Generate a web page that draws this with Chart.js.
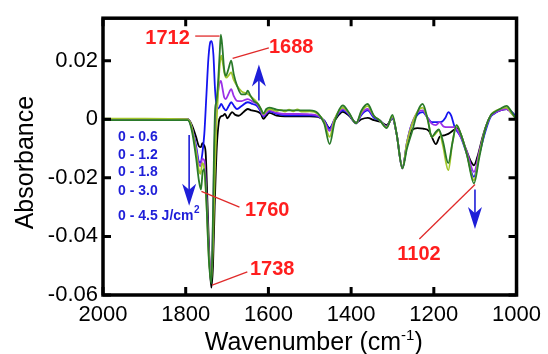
<!DOCTYPE html>
<html><head><meta charset="utf-8">
<script src="https://cdn.jsdelivr.net/npm/chart.js@4/dist/chart.umd.min.js"></script>
<style>html,body{margin:0;padding:0;background:#fff;overflow:hidden}canvas{display:block}</style>
</head><body>
<canvas id="c" width="548" height="354" style="width:548px;height:354px"></canvas>
<script>
// ---------- data (wavenumber cm-1, absorbance) ----------
const xTicks = [2000, 1800, 1600, 1400, 1200, 1000];
const xTickLabels = ['2000', '1800', '1600', '1400', '1200', '1000'];
const yTicks = [-0.06, -0.04, -0.02, 0, 0.02];
const yTickLabels = ['-0.06', '-0.04', '-0.02', '0', '0.02'];
const seriesNames = ['0 - 0.6', '0 - 1.2', '0 - 1.8', '0 - 3.0', '0 - 4.5'];
const peakLabels = ['1712', '1688', '1760', '1738', '1102'];

const black = [[2000,0],[1900,0],[1795,0],[1785,-0.002],[1775,-0.006],[1768,-0.0092],[1763,-0.0095],[1760,-0.0082],[1756,-0.0088],[1752,-0.011],[1747,-0.03],[1742,-0.05],[1738,-0.0575],[1734,-0.05],[1730,-0.03],[1725,-0.01],[1720,-0.001],[1716,0.0008],[1710,0.0012],[1705,0.0018],[1699,0.0003],[1692,0.0018],[1688,0.0024],[1680,0.0015],[1672,0.0012],[1660,0.0025],[1650,0.0035],[1640,0.003],[1625,0.0025],[1618,0.0018],[1612,0.0001],[1605,0.0012],[1598,0.0022],[1580,0.0012],[1560,0.001],[1530,0.001],[1500,0.001],[1480,0.0008],[1465,-0.0005],[1452,-0.003],[1440,-0.0005],[1420,0.0025],[1405,0.0012],[1388,-0.0012],[1375,0.0],[1360,0.0005],[1345,-0.0003],[1330,-0.0008],[1314,-0.002],[1300,0.0003],[1290,-0.005],[1276,-0.0165],[1265,-0.009],[1253,-0.0037],[1240,-0.003],[1226,-0.0032],[1212,-0.004],[1205,-0.006],[1195,-0.0085],[1186,-0.006],[1176,-0.0055],[1165,-0.005],[1150,-0.0035],[1143,-0.003],[1123,-0.01],[1110,-0.0145],[1103,-0.0157],[1095,-0.013],[1080,-0.005],[1065,0.0005],[1055,0.002],[1040,0.003],[1024,0.0035],[1012,0.0025],[1000,0.0005]];

const blue = [[2000,0],[1900,0],[1795,0],[1785,-0.003],[1775,-0.009],[1768,-0.0145],[1764,-0.0148],[1760,-0.012],[1755,-0.005],[1750,0.008],[1745,0.021],[1740,0.0265],[1737,0.0267],[1733,0.022],[1729,0.01],[1724,0.0035],[1719,0.004],[1714,0.0052],[1708,0.0038],[1703,0.003],[1696,0.0045],[1690,0.0058],[1683,0.0045],[1676,0.0035],[1665,0.0045],[1650,0.0058],[1638,0.0052],[1628,0.0046],[1620,0.003],[1612,0.001],[1605,0.002],[1598,0.0027],[1580,0.0018],[1560,0.0013],[1530,0.0013],[1500,0.0013],[1480,0.001],[1465,-0.0005],[1452,-0.0033],[1440,0.0],[1420,0.003],[1405,0.0015],[1388,-0.0014],[1375,0.0015],[1360,0.003],[1345,0.0005],[1330,-0.0005],[1314,-0.0025],[1300,0.0005],[1290,-0.005],[1276,-0.0168],[1265,-0.008],[1253,-0.0015],[1238,0.0018],[1227,0.0024],[1215,0.0005],[1205,-0.001],[1190,-0.001],[1180,-0.0008],[1172,0.0005],[1165,0.0024],[1158,0.0012],[1150,-0.0025],[1135,-0.006],[1120,-0.012],[1103,-0.0197],[1090,-0.012],[1075,-0.004],[1062,0.001],[1055,0.0018],[1040,0.003],[1024,0.0035],[1012,0.0025],[1000,0.0007]];

const purple = [[2000,0],[1900,0],[1795,0],[1785,-0.003],[1775,-0.01],[1768,-0.0155],[1764,-0.016],[1760,-0.0135],[1755,-0.014],[1750,-0.025],[1744,-0.045],[1738,-0.053],[1734,-0.035],[1731,-0.012],[1727,0.002],[1723,0.008],[1718,0.0125],[1715,0.0131],[1711,0.0105],[1707,0.0075],[1703,0.0069],[1697,0.0085],[1690,0.0103],[1684,0.008],[1676,0.0063],[1665,0.0062],[1650,0.0069],[1638,0.006],[1628,0.0052],[1620,0.0035],[1612,0.0012],[1605,0.0022],[1598,0.003],[1580,0.0022],[1560,0.0018],[1530,0.0018],[1500,0.0017],[1480,0.0012],[1465,-0.0008],[1452,-0.004],[1440,0.0],[1420,0.0035],[1405,0.0018],[1388,-0.0014],[1375,0.002],[1360,0.0035],[1345,0.001],[1330,-0.0005],[1314,-0.0025],[1300,0.0007],[1290,-0.005],[1276,-0.0168],[1265,-0.008],[1253,-0.0015],[1238,0.0025],[1227,0.003],[1215,0.0005],[1205,-0.0015],[1195,-0.002],[1186,-0.001],[1176,-0.0025],[1165,-0.0027],[1150,-0.0027],[1135,-0.006],[1120,-0.011],[1103,-0.018],[1090,-0.011],[1075,-0.003],[1062,0.0012],[1055,0.002],[1040,0.003],[1024,0.0035],[1012,0.002],[1000,0.0]];

const yellowGreen = [[2000,0.0002],[1900,0.0002],[1795,0],[1785,-0.003],[1775,-0.011],[1768,-0.0175],[1764,-0.0186],[1760,-0.015],[1756,-0.016],[1750,-0.028],[1744,-0.047],[1738,-0.055],[1734,-0.042],[1730,-0.02],[1726,-0.003],[1722,0.008],[1718,0.018],[1714,0.0217],[1710,0.019],[1706,0.0155],[1702,0.0142],[1696,0.015],[1690,0.016],[1684,0.0135],[1676,0.0114],[1665,0.0095],[1650,0.0086],[1638,0.0072],[1628,0.0058],[1620,0.004],[1612,0.0018],[1605,0.0028],[1598,0.0035],[1580,0.0028],[1570,0.0032],[1560,0.0026],[1550,0.0033],[1540,0.0027],[1530,0.0034],[1520,0.0026],[1500,0.0027],[1480,0.0018],[1465,-0.001],[1452,-0.006],[1440,0.0],[1420,0.004],[1405,0.002],[1388,-0.0014],[1375,0.0025],[1360,0.0045],[1345,0.0012],[1330,-0.0005],[1314,-0.0028],[1300,0.001],[1290,-0.005],[1276,-0.0168],[1265,-0.008],[1253,-0.0018],[1238,0.003],[1227,0.004],[1215,0.0],[1205,-0.006],[1196,-0.005],[1188,-0.0038],[1178,-0.009],[1165,-0.0174],[1155,-0.008],[1145,-0.002],[1135,-0.005],[1120,-0.012],[1103,-0.0208],[1090,-0.012],[1075,-0.003],[1062,0.0015],[1055,0.0025],[1040,0.0035],[1024,0.004],[1012,0.002],[1000,0.0]];

const darkGreen = [[2000,-0.0003],[1900,-0.0003],[1795,-0.0003],[1785,-0.004],[1775,-0.013],[1768,-0.021],[1763,-0.024],[1759,-0.018],[1755,-0.017],[1750,-0.028],[1744,-0.048],[1738,-0.056],[1735,-0.04],[1732,-0.015],[1729,0.003],[1726,0.0058],[1722,0.012],[1718,0.022],[1715,0.0289],[1711,0.024],[1707,0.017],[1703,0.0148],[1697,0.017],[1690,0.0200],[1684,0.0155],[1676,0.0115],[1665,0.0085],[1655,0.0085],[1650,0.0098],[1644,0.0082],[1635,0.0062],[1625,0.0052],[1618,0.0035],[1612,0.002],[1605,0.0035],[1598,0.004],[1580,0.0033],[1560,0.003],[1530,0.003],[1500,0.003],[1480,0.002],[1465,-0.0015],[1452,-0.0085],[1440,-0.001],[1420,0.0047],[1405,0.0022],[1388,-0.0014],[1375,0.003],[1360,0.0052],[1345,0.0012],[1330,-0.0005],[1314,-0.003],[1300,0.0015],[1290,-0.005],[1276,-0.0168],[1265,-0.01],[1253,-0.0044],[1238,0.003],[1227,0.0052],[1215,0.0],[1205,-0.006],[1196,-0.0045],[1188,-0.0035],[1178,-0.0075],[1165,-0.015],[1155,-0.008],[1145,-0.002],[1135,-0.005],[1120,-0.012],[1103,-0.0219],[1090,-0.013],[1075,-0.003],[1062,0.0015],[1055,0.0023],[1040,0.0035],[1024,0.0046],[1012,0.0025],[1000,-0.0003]];

// ---------- styles / annotation placement (data coordinates) ----------
const seriesData = [black, blue, purple, yellowGreen, darkGreen];
const seriesColors = ['#000000', '#1414f0', '#9a30e8', '#a2c62c', '#2a7a2a'];
const seriesOrder = [5, 4, 3, 2, 1];

const labelSpots = [ // text centre, leader line from -> to
  {t:[1844, 0.0276], from:[1777, 0.0284], to:[1718, 0.0284]},
  {t:[1545, 0.0245], from:[1599, 0.0244], to:[1686.5, 0.0208]},
  {t:[1603, -0.0310], from:[1670, -0.0300], to:[1762, -0.0246]},
  {t:[1591, -0.0513], from:[1651, -0.0521], to:[1736, -0.0566]},
  {t:[1236, -0.0460], from:[1235, -0.0409], to:[1100.5, -0.0223]}
];
const arrows = [ // x, shaft start y, tip y
  {x:1623, y0:0.0064, y1:0.0187},
  {x:1791.7, y0:-0.0054, y1:-0.0295},
  {x:1100.5, y0:-0.0240, y1:-0.0375}
];
const legendPos = {x:1963.7, y:[-0.0060, -0.0122, -0.0182, -0.0246, -0.0330]};

const FONT = "'Liberation Sans', Arial, Helvetica, sans-serif";
const RED = '#ff1e1e', LEADER = '#e02a2a', BLUE = '#1e1ed8';

const decor = {
  id: 'decor',
  afterDatasetsDraw(chart) {
    const {ctx, chartArea: a, scales: {x, y}} = chart;
    const X = v => x.getPixelForValue(v), Y = v => y.getPixelForValue(v);
    ctx.save();
    // frame + inward ticks
    ctx.strokeStyle = '#000';
    ctx.lineWidth = 3;
    ctx.beginPath();
    xTicks.forEach(v => { const p = X(v); ctx.moveTo(p, a.bottom); ctx.lineTo(p, a.bottom - 8); ctx.moveTo(p, a.top); ctx.lineTo(p, a.top + 8); });
    yTicks.forEach(v => { const p = Y(v); ctx.moveTo(a.left, p); ctx.lineTo(a.left + 8, p); ctx.moveTo(a.right, p); ctx.lineTo(a.right - 8, p); });
    ctx.stroke();
    ctx.lineWidth = 3.5;
    ctx.strokeRect(a.left, a.top, a.right - a.left, a.bottom - a.top);

    // axis titles
    ctx.fillStyle = '#000';
    ctx.font = '25px ' + FONT;
    ctx.textBaseline = 'alphabetic';
    ctx.save();
    ctx.translate(33, (a.top + a.bottom) / 2 + 6);
    ctx.rotate(-Math.PI / 2);
    ctx.textAlign = 'center';
    ctx.fillText('Absorbance', 0, 0);
    ctx.restore();
    const t1 = 'Wavenumber (cm', t2 = '-1', t3 = ')';
    ctx.font = '25px ' + FONT; const w1 = ctx.measureText(t1).width, w3 = ctx.measureText(t3).width;
    ctx.font = '15px ' + FONT; const w2 = ctx.measureText(t2).width;
    let sx = (a.left + a.right) / 2 + 4 - (w1 + w2 + w3) / 2;
    const by = 350;
    ctx.textAlign = 'left';
    ctx.font = '25px ' + FONT; ctx.fillText(t1, sx, by); sx += w1;
    ctx.font = '15px ' + FONT; ctx.fillText(t2, sx, by - 10); sx += w2;
    ctx.font = '25px ' + FONT; ctx.fillText(t3, sx, by);

    // leader lines + peak labels
    ctx.strokeStyle = LEADER; ctx.lineWidth = 1.3;
    labelSpots.forEach((s, i) => {
      ctx.beginPath(); ctx.moveTo(X(s.from[0]), Y(s.from[1])); ctx.lineTo(X(s.to[0]), Y(s.to[1])); ctx.stroke();
      ctx.fillStyle = RED; ctx.font = 'bold 20px ' + FONT; ctx.textAlign = 'center'; ctx.textBaseline = 'middle';
      ctx.fillText(peakLabels[i], X(s.t[0]), Y(s.t[1]));
    });

    // arrows
    ctx.strokeStyle = BLUE; ctx.fillStyle = BLUE; ctx.lineWidth = 1.6;
    arrows.forEach(ar => {
      const px = X(ar.x), p0 = Y(ar.y0), p1 = Y(ar.y1);
      const dir = p1 < p0 ? -1 : 1; // -1 up
      const hl = 22, hw = 7;
      ctx.beginPath(); ctx.moveTo(px, p0); ctx.lineTo(px, p1 - dir * hl * 0.7); ctx.stroke();
      ctx.beginPath();
      ctx.moveTo(px, p1);
      ctx.lineTo(px - hw, p1 - dir * hl);
      ctx.lineTo(px, p1 - dir * hl * 0.72);
      ctx.lineTo(px + hw, p1 - dir * hl);
      ctx.closePath(); ctx.fill();
    });

    // legend text
    ctx.fillStyle = BLUE; ctx.textAlign = 'left'; ctx.textBaseline = 'middle';
    seriesNames.forEach((n, i) => {
      const lx = X(legendPos.x), ly = Y(legendPos.y[i]);
      ctx.font = 'bold 14px ' + FONT;
      let txt = n + (i === seriesNames.length - 1 ? ' J/cm' : '');
      ctx.fillText(txt, lx, ly);
      if (i === seriesNames.length - 1) {
        const w = ctx.measureText(txt).width;
        ctx.font = 'bold 10px ' + FONT;
        ctx.fillText('2', lx + w + 0.5, ly - 6);
      }
    });
    ctx.restore();
  }
};

const datasets = seriesData.map((d, i) => ({
  label: seriesNames[i],
  data: d.map(p => ({x: p[0], y: p[1]})),
  borderColor: seriesColors[i],
  backgroundColor: seriesColors[i],
  borderWidth: 1.8,
  pointRadius: 0,
  fill: false,
  cubicInterpolationMode: 'monotone',
  order: seriesOrder[i]
}));

new Chart(document.getElementById('c'), {
  type: 'line',
  data: {datasets},
  options: {
    responsive: false,
    animation: false,
    events: [],
    layout: {padding: {left: 0, right: 24, top: 15, bottom: 0}},
    plugins: {legend: {display: false}, tooltip: {enabled: false}},
    scales: {
      x: {
        type: 'linear', reverse: true, min: 1000, max: 2000,
        afterBuildTicks: s => { s.ticks = xTicks.map(v => ({value: v})); },
        afterFit: s => { s.height = 59; },
        ticks: {color: '#000', font: {family: FONT, size: 22}, padding: 7, maxRotation: 0, autoSkip: false,
          callback: (v, i) => xTickLabels[i]},
        grid: {display: false, drawTicks: false},
        border: {display: false}
      },
      y: {
        type: 'linear', min: -0.06, max: 0.0345,
        afterBuildTicks: s => { s.ticks = yTicks.map(v => ({value: v})); },
        afterFit: s => { s.width = 103; },
        ticks: {color: '#000', font: {family: FONT, size: 22}, padding: 5, autoSkip: false,
          callback: (v, i) => yTickLabels[i]},
        grid: {display: false, drawTicks: false},
        border: {display: false}
      }
    }
  },
  plugins: [decor]
});
</script>
</body></html>
